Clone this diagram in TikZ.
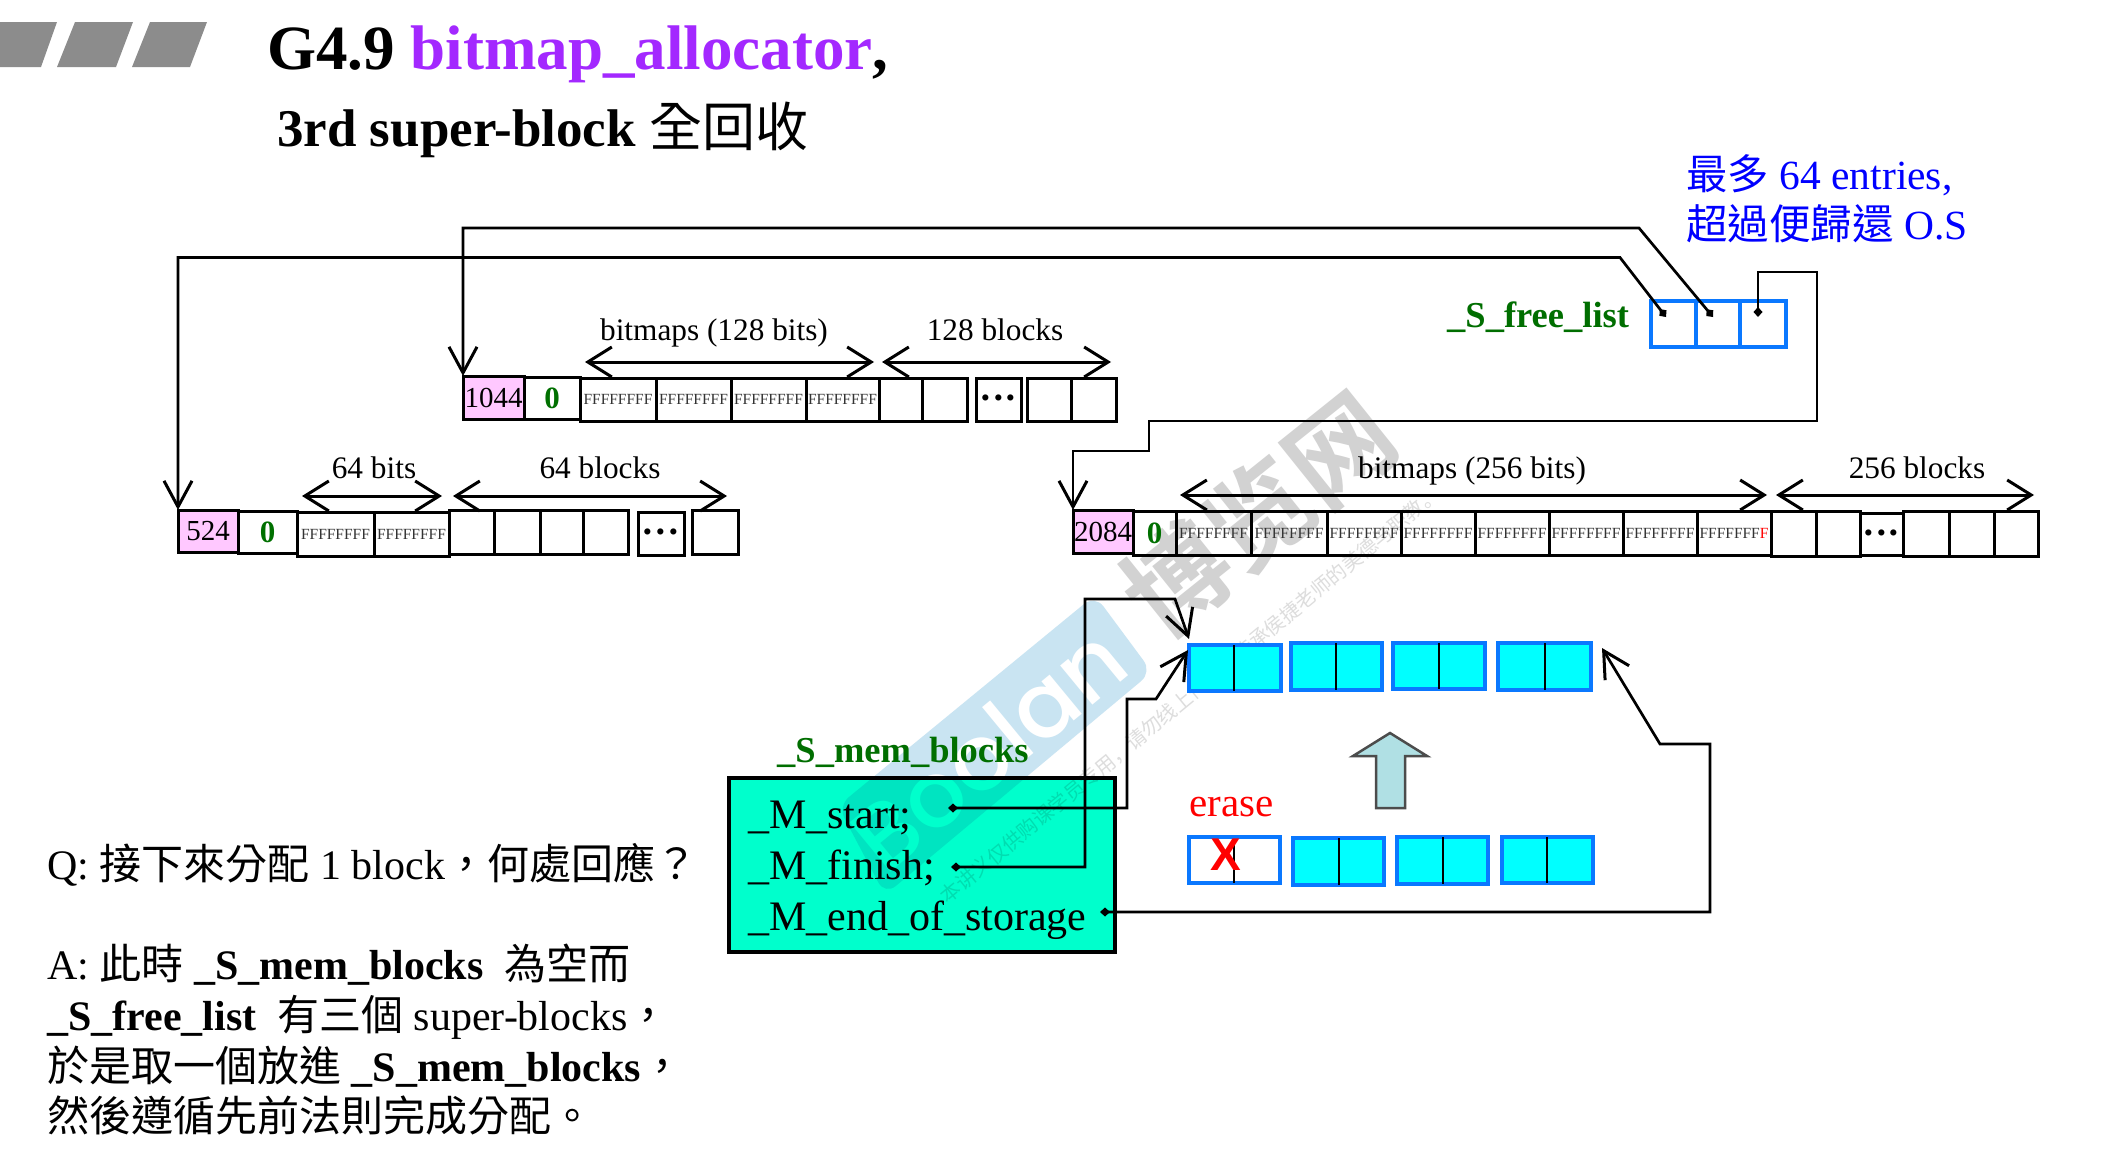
\documentclass[tikz,border=0pt]{standalone}
\usepackage{fontspec}
\setmainfont{Liberation Serif}
\setsansfont{Liberation Sans}
\newfontfamily\cjk{Noto Sans CJK TC}
\newfontfamily\wmcjk{Noto Sans CJK SC}[BoldFont={Noto Sans CJK SC Bold}]
\newfontfamily\wmlatin{Poppins Medium}
\usetikzlibrary{arrows.meta}
\newcommand\fs[1]{\fontsize{#1}{#1}\selectfont}
\newcommand\zh[1]{{\cjk #1}}
\newcommand\cellbox[7]{%
  \pgfmathsetmacro\cw{#4-#2}\pgfmathsetmacro\ch{#5-#3}%
  \node[#6,minimum width=\cw pt,minimum height=\ch pt,outer sep=0pt] (#1) at ({(#2+#4)/2},{(#3+#5)/2}) {#7};}
\newcommand\threedots{\raisebox{-11pt}[0pt][0pt]{···}}
\definecolor{pinkc}{HTML}{FFC8FF}
\definecolor{zerog}{HTML}{007000}
\definecolor{titleg}{HTML}{006E00}
\definecolor{purp}{HTML}{A328FF}
\definecolor{blockblue}{HTML}{0A78FF}
\definecolor{blockcyan}{HTML}{00FFFF}
\definecolor{memg}{HTML}{00FFCC}
\definecolor{barg}{HTML}{8C8C8C}
\definecolor{uparrow}{HTML}{B0E0E4}
\definecolor{wmblue}{HTML}{C9E4F2}
\definecolor{wmgray}{HTML}{D2D2D2}
\definecolor{wmsmall}{HTML}{DDDDDD}
\tikzset{
  x=1pt,y=-1pt,
  cell/.style={draw=black,line width=3pt,inner sep=0pt,font=\fs{15.5}\color[HTML]{333333}},
  pinkcell/.style={cell,fill=pinkc,font=\fs{29}\color{black}},
  zerocell/.style={cell,font=\fs{31}\bfseries\color{zerog}},
  dotscell/.style={cell,font=\fs{38}\bfseries\color{black}},
  bluebox/.style={draw=blockblue,line width=4pt,fill=blockcyan,inner sep=0pt},
  whitebox/.style={draw=blockblue,line width=4pt,fill=white,inner sep=0pt},
  divider/.style={draw=black,line width=2.5pt},
  lbl/.style={anchor=base,inner sep=0pt,font=\fs{31.3}},
  lblw/.style={anchor=base west,inner sep=0pt},
  span/.style={line width=3pt,{Straight Barb[length=24pt,width=30pt,line width=3pt]}-{Straight Barb[length=24pt,width=30pt,line width=3pt]}},
  source/.style={line width=2.7pt,{Diamond[length=10pt,width=9pt]}-{Straight Barb[length=26pt,width=28pt,line width=3pt]}},
}
\begin{document}
\begin{tikzpicture}
\useasboundingbox (0,0) rectangle (2126,1154);
\fill[white] (0,0) rectangle (2126,1154);
% watermark
\node[rotate=38.7,inner sep=0pt,text=wmgray,font=\fs{104}\wmcjk\bfseries] (wmcn) at (1258,514) {博览网};
\node[rotate=39.5,inner sep=0pt,text=wmsmall,font=\fs{20}\wmcjk] (wmtiny) at (1190,695) {本讲义仅供购课学员专用，请勿线上传播，传承侯捷老师的美德与职教。};
\fill[wmblue,rounded corners=14pt] (838,806) -- (1095,595) -- (1152,672) -- (885,895) -- cycle;
\node[rotate=39.5,inner sep=0pt,text=white,font=\fs{92}\wmlatin] (wmen) at (988,748) {Boolan};
% title bars
\fill[barg] (0,22) -- (57,22) -- (41,67) -- (0,67) -- cycle;
\fill[barg] (75,22) -- (133,22) -- (116,67) -- (57,67) -- cycle;
\fill[barg] (150,22) -- (207,22) -- (190,67) -- (132,67) -- cycle;
\node[lblw,font=\fs{63}\bfseries] (title) at (267,69) {G4.9 \textcolor{purp}{bitmap\_allocator}\textcolor{black}{,}};
\node[lblw,font=\fs{53}\bfseries] (subtitle) at (277,146) {3rd super-block \zh{\mdseries 全回收}};
\node[lblw,font=\fs{41.5},text=blue] (note1) at (1686,189) {\zh{最多} 64 entries,};
\node[lblw,font=\fs{41.5},text=blue] (note2) at (1686,239) {\zh{超過便歸還} O.S};
% free list
\node[lblw,font=\fs{36.5}\bfseries,text=titleg] (freelabel) at (1447,327) {\_S\_free\_list};
\cellbox{fl1}{1651}{301}{1696}{347}{draw=blockblue,line width=4pt}{}
\cellbox{fl2}{1696}{301}{1740}{347}{draw=blockblue,line width=4pt}{}
\cellbox{fl3}{1740}{301}{1786}{347}{draw=blockblue,line width=4pt}{}
\coordinate (d1) at (1666,317);
\coordinate (d2) at (1713,317);
\coordinate (d3) at (1758,317);
% 1044 row
\cellbox{a0}{463}{376}{524}{419}{pinkcell}{1044}
\cellbox{a1}{524}{377}{580}{419}{zerocell}{0}
\cellbox{a2}{580}{378}{656}{421}{cell}{FFFFFFFF}
\cellbox{a3}{656}{378}{731}{421}{cell}{FFFFFFFF}
\cellbox{a4}{731}{378}{806}{421}{cell}{FFFFFFFF}
\cellbox{a5}{806}{378}{879}{421}{cell}{FFFFFFFF}
\cellbox{a6}{879}{378}{922}{421}{cell}{}
\cellbox{a7}{922}{378}{967}{421}{cell}{}
\cellbox{a8}{976}{378}{1021}{421}{dotscell}{\threedots}
\cellbox{a9}{1027}{378}{1071}{421}{cell}{}
\cellbox{a10}{1071}{378}{1116}{421}{cell}{}
\coordinate (a2s) at (585,362);\coordinate (a2e) at (874,362);
\coordinate (a3s) at (882,362);\coordinate (a3e) at (1111,362);
\draw[span] (a2s) -- (a2e);
\draw[span] (a3s) -- (a3e);
\node[lbl] (la1) at (714,340) {bitmaps (128 bits)};
\node[lbl] (la2) at (995,340) {128 blocks};
% 524 row
\cellbox{b0}{178}{510}{238}{552}{pinkcell}{524}
\cellbox{b1}{238}{511}{297}{553}{zerocell}{0}
\cellbox{b2}{297}{512}{374}{556}{cell}{FFFFFFFF}
\cellbox{b3}{374}{512}{449}{556}{cell}{FFFFFFFF}
\cellbox{b4}{449}{510}{494}{554}{cell}{}
\cellbox{b5}{494}{510}{540}{554}{cell}{}
\cellbox{b6}{540}{510}{583}{554}{cell}{}
\cellbox{b7}{583}{510}{628}{554}{cell}{}
\cellbox{b8}{638}{512}{684}{555}{dotscell}{\threedots}
\cellbox{b9}{692}{510}{738}{554}{cell}{}
\coordinate (b2s) at (302,496);\coordinate (b2e) at (442,496);
\coordinate (b3s) at (453,496);\coordinate (b3e) at (727,496);
\draw[span] (b2s) -- (b2e);
\draw[span] (b3s) -- (b3e);
\node[lbl] (lb1) at (374,478) {64 bits};
\node[lbl] (lb2) at (600,478) {64 blocks};
% 2084 row
\cellbox{c0}{1073}{510}{1133}{553}{pinkcell}{2084}
\cellbox{c1}{1133}{511}{1176}{555}{zerocell}{0}
\cellbox{c2}{1176}{511}{1251}{555}{cell}{FFFFFFFF}
\cellbox{c3}{1251}{511}{1327}{555}{cell}{FFFFFFFF}
\cellbox{c4}{1327}{511}{1401}{555}{cell}{FFFFFFFF}
\cellbox{c5}{1401}{511}{1475}{555}{cell}{FFFFFFFF}
\cellbox{c6}{1475}{511}{1549}{555}{cell}{FFFFFFFF}
\cellbox{c7}{1549}{511}{1623}{555}{cell}{FFFFFFFF}
\cellbox{c8}{1623}{511}{1697}{555}{cell}{FFFFFFFF}
\cellbox{c9}{1697}{511}{1771}{555}{cell}{FFFFFFF\textcolor{red}{F}}
\cellbox{c10}{1771}{511}{1816}{556}{cell}{}
\cellbox{c11}{1816}{511}{1860}{556}{cell}{}
\cellbox{c12}{1860}{513}{1903}{555}{dotscell}{\threedots}
\cellbox{c13}{1903}{511}{1949}{556}{cell}{}
\cellbox{c14}{1949}{511}{1994}{556}{cell}{}
\cellbox{c15}{1994}{511}{2038}{556}{cell}{}
\coordinate (c2s) at (1180,495);\coordinate (c2e) at (1767,495);
\coordinate (c3s) at (1776,495);\coordinate (c3e) at (2034,495);
\draw[span] (c2s) -- (c2e);
\draw[span] (c3s) -- (c3e);
\node[lbl] (lc1) at (1472,478) {bitmaps (256 bits)};
\node[lbl] (lc2) at (1917,478) {256 blocks};
% links from free list
\draw[source] (d2) -- (1639,228) -- (a0.north west |- 0,228) -- (a0.north west);
\draw[source] (d1) -- (1620,257.5) -- (b0.north west |- 0,257.5) -- (b0.north west);
\draw[source] (d3) -- (1758,272) -- (1817,272) -- (1817,421) -- (1149,421) -- (1149,451) -- (c0.north west |- 0,451) -- (c0.north west);
% mem blocks
\begin{scope}[blend mode=multiply]
\cellbox{membox}{729}{778}{1115}{952}{draw=black,line width=3.5pt,fill=memg}{}
\end{scope}
\node[lblw,font=\fs{36.5}\bfseries,text=titleg] (memlabel) at (777,762) {\_S\_mem\_blocks};
\node[lblw,font=\fs{42}] (mstart) at (748,828) {\_M\_start;};
\node[lblw,font=\fs{42}] (mfinish) at (748,879) {\_M\_finish;};
\node[lblw,font=\fs{42}] (mend) at (748,930) {\_M\_end\_of\_storage};
\coordinate (ds) at (948,808);
\coordinate (df) at (951,867);
\coordinate (de) at (1100,912);
% upper blocks
\cellbox{u1}{1189}{645}{1281}{691}{bluebox}{}
\cellbox{u2}{1291}{643}{1382}{690}{bluebox}{}
\cellbox{u3}{1393}{643}{1485}{689}{bluebox}{}
\cellbox{u4}{1498}{643}{1591}{690}{bluebox}{}
\draw[divider] (1234,645) -- (1234,691);
\draw[divider] (1336,643) -- (1336,690);
\draw[divider] (1439,643) -- (1439,689);
\draw[divider] (1545,643) -- (1545,690);
\coordinate (u1top) at (1189,639);
\coordinate (u1mid) at (1188,650);
\coordinate (u4tip) at (1602,648);
% lower blocks
\cellbox{v1}{1189}{837}{1280}{883}{whitebox}{}
\cellbox{v2}{1293}{838}{1384}{885}{bluebox}{}
\cellbox{v3}{1397}{837}{1488}{884}{bluebox}{}
\cellbox{v4}{1502}{837}{1593}{883}{bluebox}{}
\draw[divider] (1234,839) -- (1234,883);
\draw[divider] (1339,838) -- (1339,885);
\draw[divider] (1443,837) -- (1443,884);
\draw[divider] (1547,837) -- (1547,883);
\node[inner sep=0pt,text=red,font=\fs{46}\sffamily\bfseries] (xmark) at (1226,855) {X};
\node[lblw,font=\fs{41},text=red] (erase) at (1189,816) {erase};
\draw[line width=2.5pt,draw=black!70,fill=uparrow] (1390,733) -- (1427,756) -- (1405,756) -- (1405,808) -- (1376,808) -- (1376,756) -- (1353,756) -- cycle;
% links from mem block
\draw[source] (ds) -- (1127,808) -- (1127,699) -- (1156,699) -- (u1mid);
\draw[source] (df) -- (1085,867) -- (1085,599) -- (1175,599) -- (u1top);
\draw[source] (de) -- (1710,912) -- (1710,744) -- (1660,744) -- (u4tip);
% Q and A
\node[lblw,font=\fs{42}] (q) at (47,879) {Q: \zh{接下來分配} 1 block\zh{，何處回應？}};
\node[lblw,font=\fs{42}] (a1l) at (47,979) {A: \zh{此時} \textbf{\_S\_mem\_blocks}\ \ \zh{為空而}};
\node[lblw,font=\fs{42}] (a2l) at (47,1030) {\textbf{\_S\_free\_list}\ \ \zh{有三個} super-blocks\zh{，}};
\node[lblw,font=\fs{42}] (a3l) at (47,1081) {\zh{於是取一個放進} \textbf{\_S\_mem\_blocks}\zh{，}};
\node[lblw,font=\fs{42}] (a4l) at (47,1131) {\zh{然後遵循先前法則完成分配。}};
\end{tikzpicture}
\end{document}
